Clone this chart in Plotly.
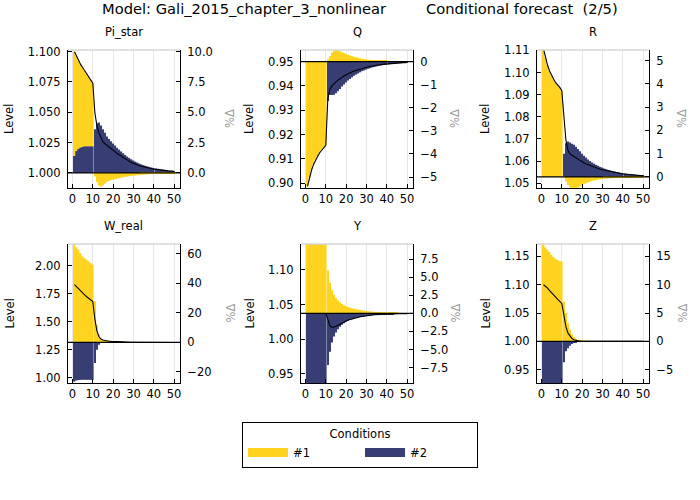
import plotly.graph_objects as go

periods = list(range(1, 51))
titles = ["Pi_star", "Q", "R", "W_real", "Y", "Z"]
cond_names = ["#1", "#2"]
cond_colors = ["#FFD320", "#363E73"]

# ---- levels (left axis) ----
pi_star_level = [1.100, 1.096, 1.0925, 1.0895, 1.087, 1.0845, 1.082, 1.0795, 1.077, 1.074,
                 1.050, 1.039, 1.033, 1.0285, 1.0255, 1.024, 1.0225, 1.0212, 1.0198, 1.0185,
                 1.0173, 1.016, 1.0148, 1.0137, 1.0125, 1.0114, 1.0104, 1.0095, 1.0086, 1.0078,
                 1.0071, 1.0065, 1.0059, 1.0054, 1.0049, 1.0045, 1.0041, 1.0037, 1.0034, 1.0031,
                 1.0028, 1.0026, 1.0024, 1.0021, 1.002, 1.0018, 1.0016, 1.0015, 1.0014, 1.0012]
q_level = [0.8987, 0.9025, 0.9054, 0.9077, 0.9096, 0.9111, 0.9125, 0.9136, 0.9146, 0.9156,
           0.9348, 0.9386, 0.9400, 0.9410, 0.9417, 0.9424, 0.9431, 0.9436, 0.9441, 0.9446,
           0.9451, 0.9454, 0.9458, 0.9462, 0.9465, 0.9468, 0.9471, 0.9473, 0.9475, 0.9477,
           0.9479, 0.9481, 0.9483, 0.9484, 0.9486, 0.9487, 0.9488, 0.9489, 0.9490, 0.9491,
           0.9492, 0.9492, 0.9493, 0.9494, 0.9494, 0.9495, 0.9495, 0.9496, 0.9496, 0.9497]
r_level = [1.1107, 1.1065, 1.1033, 1.1007, 1.0986, 1.0970, 1.0954, 1.0944, 1.0933, 1.0918,
           1.0812, 1.0696, 1.0649, 1.0633, 1.0626, 1.0620, 1.0613, 1.0607, 1.0602, 1.0596,
           1.0591, 1.0587, 1.0583, 1.0579, 1.0575, 1.0572, 1.0569, 1.0566, 1.0563, 1.0561,
           1.0558, 1.0555, 1.0553, 1.0551, 1.0549, 1.0548, 1.0546, 1.0544, 1.0543, 1.0542,
           1.0541, 1.0540, 1.0539, 1.0538, 1.0537, 1.0536, 1.0535, 1.0535, 1.0534, 1.0533]
w_real_level = [1.8333, 1.8135, 1.7938, 1.7753, 1.7569, 1.7411, 1.7253, 1.7108, 1.6976, 1.6831,
                1.5277, 1.4224, 1.3697, 1.3473, 1.3381, 1.3328, 1.3302, 1.3282, 1.3265, 1.3252,
                1.3241, 1.3232, 1.3224, 1.3217, 1.3211, 1.3206, 1.3202, 1.3198, 1.3194, 1.3191,
                1.3188, 1.3186, 1.3184, 1.3183, 1.3181, 1.3180, 1.3179, 1.3178, 1.3177, 1.3176,
                1.3175, 1.3175, 1.3174, 1.3174, 1.3173, 1.3173, 1.3173, 1.3172, 1.3172, 1.3172]
y_level = [1.0371, 1.0371, 1.0371, 1.0371, 1.0371, 1.0371, 1.0371, 1.0371, 1.0371, 1.0371,
           1.0288, 1.0195, 1.0169, 1.0174, 1.0186, 1.0202, 1.0218, 1.0233, 1.0249, 1.0262,
           1.0275, 1.0285, 1.0294, 1.0303, 1.0310, 1.0317, 1.0323, 1.0328, 1.0334, 1.0338,
           1.0342, 1.0345, 1.0348, 1.0351, 1.0353, 1.0355, 1.0358, 1.0359, 1.0361, 1.0362,
           1.0363, 1.0364, 1.0365, 1.0366, 1.0366, 1.0367, 1.0367, 1.0368, 1.0368, 1.0368]
z_level = [1.100, 1.0975, 1.094, 1.0895, 1.085, 1.0815, 1.078, 1.074, 1.0705, 1.067,
           1.047, 1.0265, 1.015, 1.009, 1.005, 1.003, 1.0017, 1.001, 1.0006, 1.00035,
           1.0002, 1.00012, 1.00007, 1.00004, 1.00002, 1.0, 1.0, 1.0, 1.0, 1.0,
           1.0, 1.0, 1.0, 1.0, 1.0, 1.0, 1.0, 1.0, 1.0, 1.0,
           1.0, 1.0, 1.0, 1.0, 1.0, 1.0, 1.0, 1.0, 1.0, 1.0]

# ---- condition contributions, % deviation (right axis) ----
pi_star_c1 = [8.6, 7.8, 7.25, 6.85, 6.55, 6.25, 6.0, 5.75, 5.5, 5.2,
              -0.3, -0.75, -1.05, -1.15, -1.05, -0.9, -0.75, -0.68, -0.62, -0.57,
              -0.52, -0.48, -0.44, -0.4, -0.37, -0.34, -0.31, -0.28, -0.26, -0.24,
              -0.22, -0.2, -0.18, -0.16, -0.15, -0.13, -0.12, -0.11, -0.1, -0.09,
              -0.08, -0.07, -0.065, -0.06, -0.05, -0.045, -0.04, -0.035, -0.03, -0.03]
pi_star_c2 = [1.4, 1.8, 2.0, 2.1, 2.15, 2.2, 2.2, 2.2, 2.2, 2.2,
              3.6, 4.1, 4.15, 3.9, 3.6, 3.3, 3.0, 2.8, 2.6, 2.42,
              2.25, 2.08, 1.92, 1.77, 1.62, 1.48, 1.35, 1.23, 1.12, 1.02,
              0.93, 0.85, 0.77, 0.7, 0.64, 0.58, 0.53, 0.48, 0.44, 0.4,
              0.36, 0.33, 0.3, 0.27, 0.25, 0.22, 0.2, 0.18, 0.17, 0.15]
q_c1 = [-5.4, -5.0, -4.7, -4.45, -4.25, -4.1, -3.95, -3.83, -3.73, -3.62,
        0.1, 0.25, 0.4, 0.48, 0.5, 0.48, 0.45, 0.41, 0.37, 0.33,
        0.3, 0.27, 0.24, 0.21, 0.19, 0.17, 0.15, 0.13, 0.12, 0.1,
        0.09, 0.08, 0.07, 0.065, 0.06, 0.05, 0.045, 0.04, 0.035, 0.03,
        0.028, 0.025, 0.022, 0.02, 0.018, 0.016, 0.014, 0.012, 0.011, 0.01]
q_c2 = [0.0, 0.0, 0.0, 0.0, 0.0, 0.0, 0.0, 0.0, 0.0, 0.0,
        -1.7, -1.45, -1.45, -1.43, -1.37, -1.28, -1.18, -1.08, -0.99, -0.9,
        -0.82, -0.75, -0.68, -0.61, -0.56, -0.51, -0.46, -0.41, -0.38, -0.34,
        -0.31, -0.28, -0.25, -0.23, -0.21, -0.19, -0.17, -0.155, -0.14, -0.125,
        -0.113, -0.105, -0.092, -0.085, -0.078, -0.071, -0.064, -0.057, -0.051, -0.045]
r_c1 = [5.5, 5.1, 4.8, 4.55, 4.35, 4.2, 4.05, 3.95, 3.85, 3.7,
        -0.05, -0.2, -0.35, -0.45, -0.51, -0.52, -0.49, -0.45, -0.4, -0.35,
        -0.31, -0.27, -0.23, -0.2, -0.17, -0.15, -0.13, -0.12, -0.1, -0.09,
        -0.08, -0.07, -0.065, -0.058, -0.05, -0.045, -0.04, -0.036, -0.032, -0.028,
        -0.025, -0.022, -0.02, -0.018, -0.016, -0.014, -0.012, -0.011, -0.01, -0.009]
r_c2 = [0.0, 0.0, 0.0, 0.0, 0.0, 0.0, 0.0, 0.0, 0.0, 0.0,
        1.0, 1.45, 1.52, 1.48, 1.43, 1.38, 1.3, 1.2, 1.1, 1.0,
        0.91, 0.83, 0.75, 0.68, 0.62, 0.57, 0.52, 0.48, 0.43, 0.4,
        0.36, 0.33, 0.3, 0.28, 0.25, 0.23, 0.21, 0.19, 0.17, 0.16,
        0.145, 0.13, 0.12, 0.11, 0.1, 0.09, 0.08, 0.073, 0.066, 0.06]
w_real_c1 = [66.5, 64.5, 62.9, 60.6, 58.4, 57.2, 56.1, 55.0, 53.8, 52.7,
             28.0, 12.0, 5.0, 2.0, 1.0, 0.6, 0.4, 0.3, 0.22, 0.17,
             0.13, 0.1, 0.08, 0.06, 0.05, 0.04, 0.03, 0.025, 0.02, 0.016,
             0.013, 0.01, 0.008, 0.006, 0.005, 0.004, 0.003, 0.003, 0.002, 0.002,
             0.002, 0.001, 0.001, 0.001, 0.001, 0.001, 0.0, 0.0, 0.0, 0.0]
w_real_c2 = [-26.5, -25.8, -25.5, -25.4, -25.3, -25.3, -25.3, -25.3, -25.3, -25.3,
             -14.0, -5.0, -1.5, 0.3, 0.6, 0.6, 0.6, 0.55, 0.5, 0.45,
             0.41, 0.37, 0.33, 0.3, 0.26, 0.23, 0.21, 0.19, 0.17, 0.15,
             0.13, 0.12, 0.1, 0.09, 0.08, 0.07, 0.063, 0.056, 0.05, 0.045,
             0.04, 0.035, 0.031, 0.027, 0.024, 0.021, 0.019, 0.017, 0.015, 0.013]
y_c1 = [22.0, 21.5, 21.0, 20.6, 20.3, 20.0, 19.8, 19.6, 19.4, 19.2,
        5.96, 4.24, 3.2, 2.6, 2.14, 1.8, 1.54, 1.3, 1.12, 0.98,
        0.88, 0.8, 0.72, 0.65, 0.59, 0.53, 0.48, 0.43, 0.39, 0.35,
        0.31, 0.28, 0.25, 0.22, 0.2, 0.18, 0.16, 0.14, 0.125, 0.11,
        0.1, 0.09, 0.08, 0.07, 0.062, 0.055, 0.049, 0.043, 0.038, 0.034]
y_c2 = [-22.0, -21.5, -21.0, -20.6, -20.3, -20.0, -19.8, -19.6, -19.4, -19.2,
        -7.17, -5.3, -4.05, -3.2, -2.65, -2.2, -1.86, -1.58, -1.35, -1.16,
        -1.02, -0.9, -0.8, -0.71, -0.63, -0.56, -0.5, -0.44, -0.39, -0.35,
        -0.31, -0.28, -0.25, -0.22, -0.2, -0.18, -0.16, -0.14, -0.125, -0.11,
        -0.1, -0.09, -0.08, -0.07, -0.062, -0.055, -0.049, -0.043, -0.038, -0.034]
z_c1 = [17.5, 16.6, 16.2, 15.8, 15.3, 14.9, 14.6, 14.4, 14.2, 14.1,
        7.06, 5.0, 3.2, 2.06, 1.2, 0.76, 0.45, 0.25, 0.14, 0.08,
        0.045, 0.025, 0.014, 0.008, 0.004, 0.0, 0.0, 0.0, 0.0, 0.0,
        0.0, 0.0, 0.0, 0.0, 0.0, 0.0, 0.0, 0.0, 0.0, 0.0,
        0.0, 0.0, 0.0, 0.0, 0.0, 0.0, 0.0, 0.0, 0.0, 0.0]
z_c2 = [-7.5, -7.4, -7.6, -7.7, -7.6, -7.6, -7.6, -7.7, -7.6, -7.5,
        -3.7, -1.76, -1.2, -0.76, -0.45, -0.27, -0.16, -0.09, -0.05, -0.03,
        -0.017, -0.01, -0.006, -0.003, -0.001, 0.0, 0.0, 0.0, 0.0, 0.0,
        0.0, 0.0, 0.0, 0.0, 0.0, 0.0, 0.0, 0.0, 0.0, 0.0,
        0.0, 0.0, 0.0, 0.0, 0.0, 0.0, 0.0, 0.0, 0.0, 0.0]

levels = [pi_star_level, q_level, r_level, w_real_level, y_level, z_level]
cond1 = [pi_star_c1, q_c1, r_c1, w_real_c1, y_c1, z_c1]
cond2 = [pi_star_c2, q_c2, r_c2, w_real_c2, y_c2, z_c2]

# ---- tick labels ----
x_ticks = [0, 10, 20, 30, 40, 50]
left_tickvals = [[1.0, 1.025, 1.05, 1.075, 1.1],
                 [0.90, 0.91, 0.92, 0.93, 0.94, 0.95],
                 [1.05, 1.06, 1.07, 1.08, 1.09, 1.10, 1.11],
                 [1.0, 1.25, 1.5, 1.75, 2.0],
                 [0.95, 1.0, 1.05, 1.10],
                 [0.95, 1.0, 1.05, 1.10, 1.15]]
left_formats = [".3f", ".2f", ".2f", ".2f", ".2f", ".2f"]
right_tickvals = [[0, 2.5, 5, 7.5, 10],
                  [-5, -4, -3, -2, -1, 0],
                  [0, 1, 2, 3, 4, 5],
                  [-20, 0, 20, 40, 60],
                  [-7.5, -5, -2.5, 0, 2.5, 5, 7.5],
                  [-5, 0, 5, 10, 15]]
right_ticktext = [["0.0", "2.5", "5.0", "7.5", "10.0"],
                  ["\u22125", "\u22124", "\u22123", "\u22122", "\u22121", "0"],
                  ["0", "1", "2", "3", "4", "5"],
                  ["\u221220", "0", "20", "40", "60"],
                  ["\u22127.5", "\u22125.0", "\u22122.5", "0.0", "2.5", "5.0", "7.5"],
                  ["\u22125", "0", "5", "10", "15"]]

# ---- axis ranges / layout geometry ----
left_ranges = [[0.9875, 1.1014], [0.898, 0.9548], [1.0478, 1.1102],
               [0.955, 2.196], [0.937, 1.137], [0.9265, 1.172]]
right_ranges = [[-1.25, 10.14], [-5.474, 0.505], [-0.475, 5.45],
                [-27.49, 66.74], [-9.652, 9.633], [-7.35, 17.2]]
x_range = [-2.2, 52.9]

W, H = 700, 500
col_px = [(68, 180), (301, 413), (537, 649)]
row_px = [(50, 188), (244, 383)]
FONT = "DejaVu Sans"


def px(x):
    return x / W


def py(y):
    return 1 - y / H


fig = go.Figure()

# legend entries
for name, color in zip(cond_names, cond_colors):
    fig.add_trace(go.Scatter(x=[None], y=[None], mode="lines", name=name,
                             line=dict(color=color, width=9),
                             xaxis="x", yaxis="y", showlegend=True, hoverinfo="skip"))

layout_axes = {}
shapes = []
annotations = []

for k in range(6):
    r, c = divmod(k, 3)
    xid = "" if k == 0 else str(k + 1)
    base = 2 * k + 1
    over = 2 * k + 2
    bid = "" if base == 1 else str(base)
    oid = str(over)

    # bars: condition #2 first so it sits at the base of the stack
    fig.add_trace(go.Bar(x=periods, y=cond2[k], marker=dict(color=cond_colors[1], line=dict(width=0)),
                         name=cond_names[1], showlegend=False,
                         xaxis="x" + xid, yaxis="y" + bid))
    fig.add_trace(go.Bar(x=periods, y=cond1[k], marker=dict(color=cond_colors[0], line=dict(width=0)),
                         name=cond_names[0], showlegend=False,
                         xaxis="x" + xid, yaxis="y" + bid))
    fig.add_trace(go.Scatter(x=periods, y=levels[k], mode="lines",
                             line=dict(color="black", width=1.1),
                             showlegend=False, xaxis="x" + xid, yaxis="y" + oid))

    x0, x1 = col_px[c]
    y0, y1 = row_px[r]
    common = dict(showline=True, linecolor="black", linewidth=1, ticks="inside",
                  ticklen=4, tickcolor="black", tickwidth=1, zeroline=False,
                  tickfont=dict(family=FONT, size=11.5, color="black"),
                  automargin=False, fixedrange=True)
    layout_axes["xaxis" + xid] = dict(domain=[px(x0), px(x1)], range=x_range, anchor="y" + bid,
                                      tickvals=x_ticks, showgrid=True, gridcolor="#e8e8e8",
                                      gridwidth=1, **common)
    layout_axes["yaxis" + bid] = dict(domain=[py(y1), py(y0)], range=right_ranges[k],
                                      anchor="x" + xid, side="right", showgrid=False,
                                      tickvals=right_tickvals[k], ticktext=right_ticktext[k],
                                      ticklabelstandoff=4, **common)
    layout_axes["yaxis" + oid] = dict(range=left_ranges[k], anchor="x" + xid, side="left",
                                      overlaying="y" + bid, showgrid=False,
                                      tickvals=left_tickvals[k], tickformat=left_formats[k],
                                      ticklabelstandoff=4, **common)

    # zero line on % axis and light top border
    shapes.append(dict(type="line", xref="x" + xid + " domain", x0=0, x1=1,
                       yref="y" + bid, y0=0, y1=0, line=dict(color="black", width=1.2),
                       layer="above"))
    shapes.append(dict(type="line", xref="x" + xid + " domain", x0=0, x1=1,
                       yref="y" + bid + " domain", y0=1, y1=1,
                       line=dict(color="#d6d6d6", width=1.5), layer="above"))

    cx = (x0 + x1) / 2
    cy = (y0 + y1) / 2
    annotations.append(dict(text=titles[k], x=px(cx), y=py(y0 - 18), xref="paper", yref="paper",
                            showarrow=False, font=dict(family=FONT, size=11.5, color="black"),
                            xanchor="center", yanchor="middle"))
    level_x = [9, 249, 485][c]
    pct_x = [230, 455, 682][c]
    annotations.append(dict(text="Level", x=px(level_x), y=py(cy), xref="paper", yref="paper",
                            showarrow=False, textangle=-90,
                            font=dict(family=FONT, size=11.5, color="black"),
                            xanchor="center", yanchor="middle"))
    annotations.append(dict(text="%\u0394", x=px(pct_x), y=py(cy), xref="paper", yref="paper",
                            showarrow=False, textangle=-90,
                            font=dict(family=FONT, size=11.5, color="#999999"),
                            xanchor="center", yanchor="middle"))

annotations.append(dict(text="Model: Gali_2015_chapter_3_nonlinear", x=px(100), y=py(8),
                        xref="paper", yref="paper", showarrow=False, xanchor="left",
                        yanchor="middle", font=dict(family=FONT, size=14.7, color="black")))
annotations.append(dict(text="Conditional forecast\u00a0 (2/5)", x=px(424), y=py(8),
                        xref="paper", yref="paper", showarrow=False, xanchor="left",
                        yanchor="middle", font=dict(family=FONT, size=14.7, color="black")))

fig.update_layout(
    width=W, height=H, autosize=False,
    margin=dict(l=0, r=0, t=0, b=0),
    paper_bgcolor="white", plot_bgcolor="white",
    barmode="relative", bargap=0.2,
    font=dict(family=FONT, size=11.5, color="black"),
    showlegend=True,
    legend=dict(x=px(242), y=py(422), xanchor="left", yanchor="top",
                orientation="h", bordercolor="black", borderwidth=1, bgcolor="white",
                title=dict(text="Conditions", side="top center",
                           font=dict(family=FONT, size=11.5)),
                font=dict(family=FONT, size=11.5), entrywidth=62,
                entrywidthmode="pixels", itemwidth=40, traceorder="normal"),
    shapes=shapes, annotations=annotations,
    **layout_axes,
)

fig.write_html("out.html", config={"displayModeBar": False},
               post_script="document.body.style.margin='0';document.body.style.overflow='hidden';")
